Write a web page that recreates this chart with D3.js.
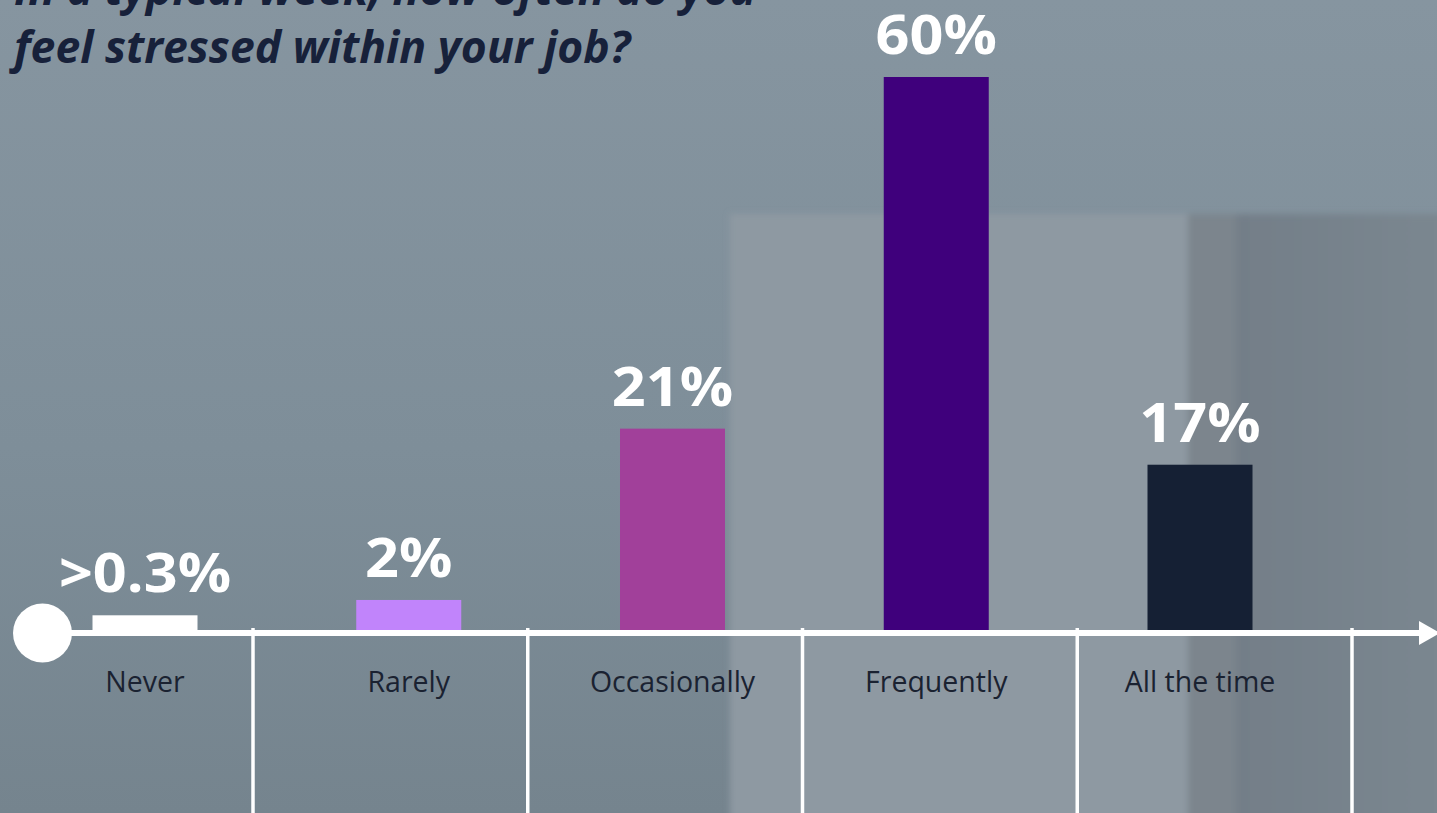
<!DOCTYPE html>
<html>
<head>
<meta charset="utf-8">
<script src="https://cdn.jsdelivr.net/npm/d3@7/dist/d3.min.js"></script>
<style>
  html, body { margin: 0; padding: 0; background: #7f8e99; }
  svg { display: block; }
</style>
</head>
<body>
<svg id="chart" width="1437" height="813"></svg>
<script>
// Survey answers: how often respondents feel stressed at work
const categories = ["Never", "Rarely", "Occasionally", "Frequently", "All the time"];
const values = [0.3, 2, 21, 60, 17];
const valueLabels = [">0.3%", "2%", "21%", "60%", "17%"];
const barColors = ["#ffffff", "#c184fb", "#a1409a", "#3f007c", "#152034"];
const titleLines = ["In a typical week, how often do you", "feel stressed within your job?"];

const W = 1437, H = 813;
const axisY = 633;

const svg = d3.select("#chart");
const defs = svg.append("defs");

// Backdrop: soft photographic wash in blue-grey
const bg = defs.append("linearGradient").attr("id", "bgGrad")
  .attr("x1", 0).attr("y1", 0).attr("x2", 0).attr("y2", 1);
bg.append("stop").attr("offset", 0).attr("stop-color", "#8695a0");
bg.append("stop").attr("offset", 0.55).attr("stop-color", "#7e8e99");
bg.append("stop").attr("offset", 1).attr("stop-color", "#75848e");

const side = defs.append("linearGradient").attr("id", "sideGrad")
  .attr("x1", 0).attr("y1", 0).attr("x2", 1).attr("y2", 0);
side.append("stop").attr("offset", 0).attr("stop-color", "#737e88");
side.append("stop").attr("offset", 1).attr("stop-color", "#7b8790");

const soft = defs.append("filter").attr("id", "soft")
  .attr("x", "-5%").attr("y", "-5%").attr("width", "110%").attr("height", "110%");
soft.append("feGaussianBlur").attr("stdDeviation", 3);

svg.append("rect").attr("width", W).attr("height", H).attr("fill", "url(#bgGrad)");
const backdrop = svg.append("g").attr("filter", "url(#soft)");
backdrop.append("rect").attr("x", 1236).attr("y", 214).attr("width", 210).attr("height", 610)
  .attr("fill", "url(#sideGrad)");
backdrop.append("rect").attr("x", 730).attr("y", 214).attr("width", 458).attr("height", 610)
  .attr("fill", "#8e99a2");
backdrop.append("rect").attr("x", 1188).attr("y", 214).attr("width", 48).attr("height", 610)
  .attr("fill", "#7b858d");

// Scales
const x = d3.scalePoint().domain(categories).range([145, 1200]);
const sections = d3.scaleBand().domain(categories).range([-21.75, 1352]);
const y = d3.scaleLinear().domain([0, 60]).range([618, 77]);
const barW = 105;

// Section dividers below the axis
svg.append("g").selectAll("line")
  .data(categories)
  .join("line")
  .attr("x1", d => sections(d) + sections.bandwidth())
  .attr("x2", d => sections(d) + sections.bandwidth())
  .attr("y1", axisY - 5)
  .attr("y2", H)
  .attr("stroke", "#ffffff")
  .attr("stroke-width", 3.5);

// Bars
svg.append("g").selectAll("rect")
  .data(categories)
  .join("rect")
  .attr("x", d => x(d) - barW / 2)
  .attr("y", (d, i) => y(values[i]))
  .attr("width", barW)
  .attr("height", (d, i) => axisY - y(values[i]))
  .attr("fill", (d, i) => barColors[i]);

// Axis with start dot and arrow head
svg.append("line")
  .attr("x1", 42).attr("x2", 1424)
  .attr("y1", axisY).attr("y2", axisY)
  .attr("stroke", "#ffffff").attr("stroke-width", 6);
svg.append("circle").attr("cx", 42.5).attr("cy", axisY).attr("r", 29.5).attr("fill", "#ffffff");
svg.append("path")
  .attr("d", `M1419,${axisY - 12} L1440,${axisY} L1419,${axisY + 12} Z`)
  .attr("fill", "#ffffff");

// Value labels above bars
svg.append("g").selectAll("text")
  .data(categories)
  .join("text")
  .attr("transform", (d, i) => `translate(${x(d)},${y(values[i]) - 23}) scale(1.12,1)`)
  .attr("text-anchor", "middle")
  .attr("font-family", "'Open Sans', sans-serif")
  .attr("font-weight", 700)
  .attr("font-size", 53)
  .attr("fill", "#ffffff")
  .text((d, i) => valueLabels[i]);

// Category labels
svg.append("g").selectAll("text")
  .data(categories)
  .join("text")
  .attr("x", d => x(d))
  .attr("y", 692)
  .attr("text-anchor", "middle")
  .attr("font-family", "'Open Sans', sans-serif")
  .attr("font-size", 28.5)
  .attr("fill", "#1a2231")
  .text(d => d);

// Title
svg.append("g").selectAll("text")
  .data(titleLines)
  .join("text")
  .attr("x", 14)
  .attr("y", (d, i) => 5 + i * 58)
  .attr("font-family", "'Open Sans', sans-serif")
  .attr("font-weight", 700)
  .attr("font-style", "italic")
  .attr("font-size", 44.5)
  .attr("fill", "#17213a")
  .text(d => d);
</script>
</body>
</html>
